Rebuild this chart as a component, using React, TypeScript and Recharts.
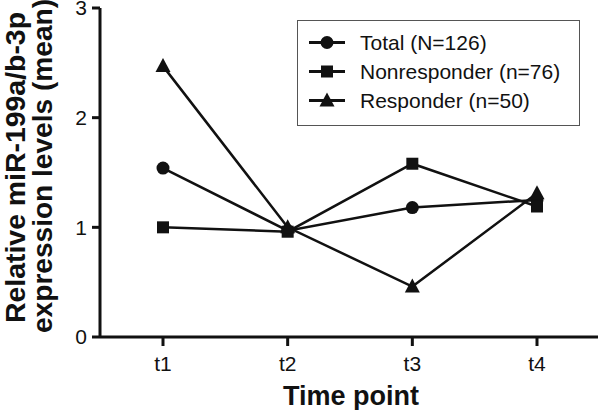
import React from 'react';
import { LineChart, Line, XAxis, YAxis, Legend } from 'recharts';

const timePoints = ['t1', 't2', 't3', 't4'];
const totalMeans = [1.54, 0.97, 1.18, 1.25];
const nonresponderMeans = [1.0, 0.96, 1.58, 1.19];
const responderMeans = [2.47, 1.0, 0.46, 1.31];
const yTicks = [0, 1, 2, 3];

const seriesNames = ['Total (N=126)', 'Nonresponder (n=76)', 'Responder (n=50)'];
const seriesShapes = ['circle', 'square', 'triangle'];

const data = timePoints.map((t, i) => ({
  name: t,
  total: totalMeans[i],
  nonresponder: nonresponderMeans[i],
  responder: responderMeans[i],
}));

const ink = '#111';
const font = '"Liberation Sans", Arial, Helvetica, sans-serif';

const Marker = ({ cx, cy, shape }: { cx: number; cy: number; shape: string }) => {
  if (cx == null || cy == null) return null;
  if (shape === 'square') {
    return <rect x={cx - 6} y={cy - 6} width={12} height={12} fill={ink} />;
  }
  if (shape === 'triangle') {
    return <path d={`M${cx},${cy - 8} L${cx + 7.5},${cy + 6} L${cx - 7.5},${cy + 6} Z`} fill={ink} />;
  }
  return <circle cx={cx} cy={cy} r={6.5} fill={ink} />;
};

const makeDot = (shape: string) => (props: any) => (
  <Marker key={`${shape}-${props.index}`} cx={props.cx} cy={props.cy} shape={shape} />
);

const LegendBox = () => (
  <div
    style={{
      width: 281,
      height: 97,
      border: '1.5px solid #555',
      background: '#fff',
      fontFamily: font,
      fontSize: 21,
      color: ink,
      paddingTop: 7,
      boxSizing: 'content-box',
    }}
  >
    {seriesNames.map((n, i) => (
      <div key={n} style={{ display: 'flex', alignItems: 'center', height: 29 }}>
        <svg width={62} height={29} style={{ flexShrink: 0 }}>
          <line x1={11} x2={47} y1={14.5} y2={14.5} stroke={ink} strokeWidth={3} />
          <Marker cx={29} cy={14.5} shape={seriesShapes[i]} />
        </svg>
        <span style={{ whiteSpace: 'nowrap' }}>{n}</span>
      </div>
    ))}
  </div>
);

const YTitle = () => (
  <g fontFamily={font} fontWeight="bold" fontSize={27} fill={ink}>
    <text transform="translate(25,323) rotate(-90)" textAnchor="start" textLength={311} lengthAdjust="spacingAndGlyphs">
      Relative miR-199a/b-3p
    </text>
    <text transform="translate(52,333) rotate(-90)" textAnchor="start" textLength={334} lengthAdjust="spacingAndGlyphs">
      expression levels (mean)
    </text>
  </g>
);

const XTitle = () => (
  <text x={351} y={405} textAnchor="middle" fontFamily={font} fontWeight="bold" fontSize={27} fill={ink}>
    Time point
  </text>
);

export default function App() {
  return (
    <div style={{ position: 'absolute', left: 0, top: 0, width: 600, height: 410, background: '#fff' }}>
      <LineChart width={600} height={410} data={data} margin={{ top: 8, right: 2, bottom: 0, left: 0 }}>
        <XAxis
          dataKey="name"
          height={73}
          padding={{ left: 63, right: 61 }}
          axisLine={{ stroke: ink, strokeWidth: 3 }}
          tickLine={{ stroke: ink, strokeWidth: 3 }}
          tickSize={9}
          tickMargin={10}
          tick={{ fill: ink, fontSize: 21, fontFamily: font }}
          label={{ content: () => <XTitle /> }}
        />
        <YAxis
          width={100}
          domain={[0, 3]}
          ticks={yTicks}
          interval={0}
          axisLine={{ stroke: ink, strokeWidth: 3 }}
          tickLine={{ stroke: ink, strokeWidth: 3 }}
          tickSize={8}
          tickMargin={5}
          tick={{ fill: ink, fontSize: 21, fontFamily: font }}
          label={{ content: () => <YTitle /> }}
        />
        <Legend
          layout="horizontal"
          verticalAlign="middle"
          align="center"
          wrapperStyle={{ position: 'absolute', left: 297, top: 20, width: 'auto', height: 'auto' }}
          content={() => <LegendBox />}
        />
        <Line dataKey="total" name={seriesNames[0]} stroke={ink} strokeWidth={2.5} dot={makeDot('circle')} isAnimationActive={false} />
        <Line dataKey="nonresponder" name={seriesNames[1]} stroke={ink} strokeWidth={2.5} dot={makeDot('square')} isAnimationActive={false} />
        <Line dataKey="responder" name={seriesNames[2]} stroke={ink} strokeWidth={2.5} dot={makeDot('triangle')} isAnimationActive={false} />
      </LineChart>
    </div>
  );
}
